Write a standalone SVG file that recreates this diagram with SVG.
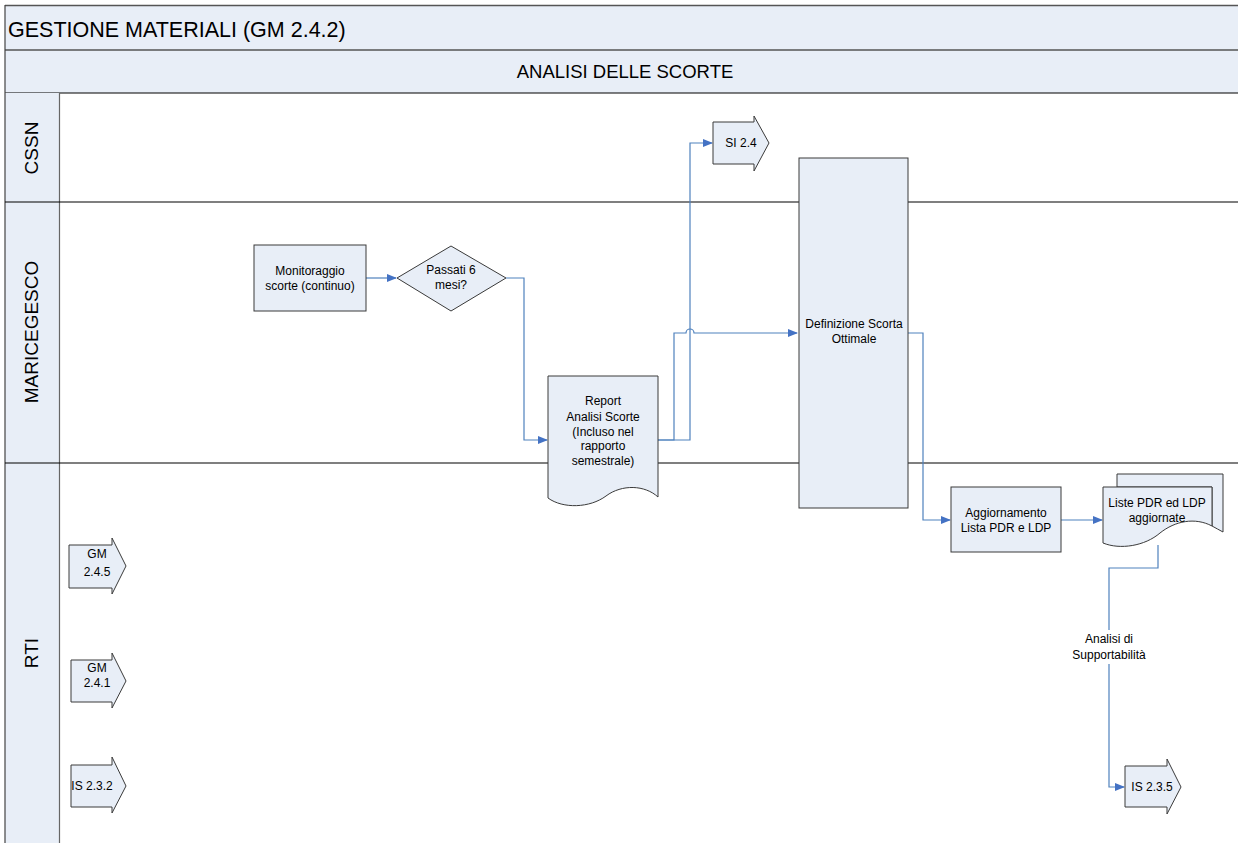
<svg xmlns="http://www.w3.org/2000/svg" width="1238" height="843" viewBox="0 0 1238 843">
<style>
text{font-family:"Liberation Sans",Arial,sans-serif;fill:#000}
.n{font-size:12px;text-anchor:middle}
.lane{font-size:19px;text-anchor:middle}
.shape{fill:#E8EEF7;stroke:#3a3a3a;stroke-width:1}
.c{fill:none;stroke:#4F81BD;stroke-width:1.2}
</style>
<defs>
<marker id="ah" markerWidth="10" markerHeight="10" refX="9" refY="5" orient="auto" markerUnits="userSpaceOnUse">
<path d="M0,1 L10,5 L0,9 Z" fill="#4472C4"/>
</marker>
</defs>
<rect width="1238" height="843" fill="#ffffff"/>
<g id="pool">
<rect x="5" y="5" width="1240" height="88" fill="#E8EEF7"/>
<line x1="5" y1="5.5" x2="1238" y2="5.5" stroke="#555" stroke-width="1.5"/>
<line x1="5" y1="50" x2="1238" y2="50" stroke="#555" stroke-width="1.5"/>
<line x1="5" y1="93" x2="1238" y2="93" stroke="#000" stroke-width="1.2"/>
<rect x="5" y="93" width="54" height="750" fill="#E8EEF7"/>
<line x1="5" y1="5" x2="5" y2="843" stroke="#444" stroke-width="1.2"/>
<line x1="59.5" y1="93" x2="59.5" y2="843" stroke="#666" stroke-width="1.2"/>
<line x1="5" y1="202" x2="1238" y2="202" stroke="#000" stroke-width="1.2"/>
<line x1="5" y1="463" x2="1238" y2="463" stroke="#000" stroke-width="1.2"/>
<text x="8" y="37" style="font-size:21.5px">GESTIONE MATERIALI (GM 2.4.2)</text>
<text x="625" y="78" style="font-size:18.5px;text-anchor:middle">ANALISI DELLE SCORTE</text>
<text class="lane" transform="translate(38,148) rotate(-90)">CSSN</text>
<text class="lane" transform="translate(38,332) rotate(-90)">MARICEGESCO</text>
<text class="lane" transform="translate(38,653) rotate(-90)">RTI</text>
</g>
<g id="connectors">
<path class="c" d="M366,278 H396" marker-end="url(#ah)"/>
<path class="c" d="M506,278 H524 V440 H547" marker-end="url(#ah)"/>
<path class="c" d="M658,440 H690 V143 H712" marker-end="url(#ah)"/>
<path class="c" d="M658,440 H674 V333 H686 A4,4 0 0 1 694,333 H797" marker-end="url(#ah)"/>
<path class="c" d="M908,333 H923 V520 H950" marker-end="url(#ah)"/>
<path class="c" d="M1061,520 H1102" marker-end="url(#ah)"/>
<path class="c" d="M1158,545 V568 H1109 V787 H1124" marker-end="url(#ah)"/>
<rect x="1068" y="630" width="82" height="34" fill="#fff"/>
<text class="n" x="1109" y="643">Analisi di</text>
<text class="n" x="1109" y="659">Supportabilità</text>
</g>
<g id="monitoraggio">
<rect class="shape" x="254" y="245" width="112" height="66"/>
<text class="n" x="310" y="275">Monitoraggio</text>
<text class="n" x="310" y="290">scorte (continuo)</text>
</g>
<g id="passati">
<path class="shape" d="M397,278 L451,246 L506,278 L451,311 Z"/>
<text class="n" x="451" y="274">Passati 6</text>
<text class="n" x="451" y="289">mesi?</text>
</g>
<g id="report">
<path class="shape" d="M548,376 H658 V497 C645,485 622,484 606,496 C590,508 563,509 548,498 Z"/>
<text class="n" x="603" y="405">Report</text>
<text class="n" x="603" y="421">Analisi Scorte</text>
<text class="n" x="603" y="436">(Incluso nel</text>
<text class="n" x="603" y="450">rapporto</text>
<text class="n" x="603" y="465">semestrale)</text>
</g>
<g id="si24">
<path class="shape" d="M713,122 H754 V116 L769,143 L754,171 V164 H713 Z"/>
<text class="n" x="741" y="147">SI 2.4</text>
</g>
<g id="definizione">
<rect class="shape" x="799" y="158" width="109" height="350"/>
<text class="n" x="854" y="328">Definizione Scorta</text>
<text class="n" x="854" y="343">Ottimale</text>
</g>
<g id="aggiornamento">
<rect class="shape" x="951" y="487" width="110" height="65"/>
<text class="n" x="1006" y="517">Aggiornamento</text>
<text class="n" x="1006" y="532">Lista PDR e LDP</text>
</g>
<g id="liste">
<path class="shape" d="M1117,487 V474 H1223 V532 C1219,530 1216,528 1212,526 V487 Z"/>
<path class="shape" d="M1103,487 H1212 V526 C1195,517 1175,521 1160,533 C1145,546 1120,550 1103,543 Z"/>
<text class="n" x="1157" y="507">Liste PDR ed LDP</text>
<text class="n" x="1157" y="522">aggiornate</text>
</g>
<g id="gm245">
<path class="shape" d="M69,545 H112 V538 L126,566 L112,594 V588 H69 Z"/>
<text class="n" x="97" y="558">GM</text>
<text class="n" x="97" y="576">2.4.5</text>
</g>
<g id="gm241">
<path class="shape" d="M71,660 H112 V653 L126,681 L112,708 V702 H71 Z"/>
<text class="n" x="97" y="672">GM</text>
<text class="n" x="97" y="687">2.4.1</text>
</g>
<g id="is232">
<path class="shape" d="M71,765 H112 V757 L126,786 L112,813 V807 H71 Z"/>
<text class="n" x="92" y="790">IS 2.3.2</text>
</g>
<g id="is235">
<path class="shape" d="M1125,766 H1167 V759 L1181,787 L1167,814 V807 H1125 Z"/>
<text class="n" x="1152" y="791">IS 2.3.5</text>
</g>
</svg>
